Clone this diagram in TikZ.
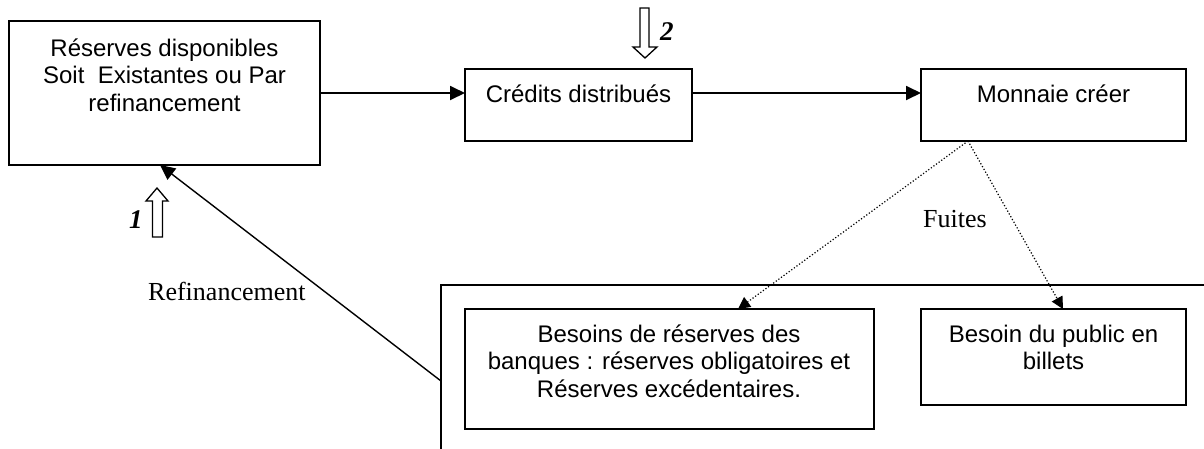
\documentclass[tikz,border=0pt]{standalone}
\usepackage{fontspec}
\setmainfont{Liberation Serif}
\newfontfamily\boxfont{Liberation Sans}
\usetikzlibrary{arrows.meta,calc}
\begin{document}
\begin{tikzpicture}[x=1pt,y=-1pt,
  box/.style={draw,line width=1.8pt,inner sep=0pt,outer sep=0pt,anchor=north west},
  boxtext/.style={anchor=north,inner sep=0pt,align=center,font=\boxfont\fontsize{24}{27.5}\selectfont},
  lbl/.style={anchor=base west,inner sep=0pt,font=\fontsize{26}{30}\selectfont},
  num/.style={anchor=base west,inner sep=0pt,font=\fontsize{27}{30}\selectfont\bfseries\itshape},
  conn/.style={line width=1.8pt,-{Triangle[length=15pt,width=14pt]}},
  refin/.style={line width=1.4pt,-{Triangle[length=15pt,width=14pt]}},
  leak/.style={line width=1.2pt,dash pattern=on 1.2pt off 2pt,-{Triangle[length=12pt,width=12pt]}},
  blk/.style={draw,fill=white,line width=1.3pt,line join=miter}
]
\useasboundingbox (0,0) rectangle (1204,448);
\clip (0,0) rectangle (1204,448);

% boxes
\node[box,minimum width=311pt,minimum height=144pt] (b1) at (9,21) {};
\node[box,minimum width=227pt,minimum height=72pt] (b2) at (465,69) {};
\node[box,minimum width=265pt,minimum height=72pt] (b3) at (921,69) {};
\node[box,minimum width=800pt,minimum height=200pt] (big) at (441,285) {};
\node[box,minimum width=409pt,minimum height=120pt] (b4) at (465,309) {};
\node[box,minimum width=265pt,minimum height=96pt] (b5) at (921,309) {};

% texts
\node[boxtext] (t1) at (164.5,36.75) {\strut R\'eserves disponibles\\Soit~ Existantes ou Par\\refinancement};
\node[boxtext] (t2) at (578.5,82.75) {\strut Cr\'edits distribu\'es};
\node[boxtext] (t3) at (1053.5,82.75) {\strut Monnaie cr\'eer};
\node[boxtext] (t4) at (669,322.75) {\strut Besoins de r\'eserves des\\banques : r\'eserves obligatoires et\\R\'eserves exc\'edentaires.};
\node[boxtext] (t5) at (1053.5,322.75) {\strut Besoin du public en\\billets};

\node[lbl] (fuites) at (923,227) {Fuites};
\node[lbl] (refl) at (148,300) {Refinancement};
\node[num] (n1) at (129,228) {1};
\node[num] (n2) at (660,40) {2};

% connectors
\draw[conn] (b1.east) -- (b2.west |- b1.east);
\draw[conn] (b2.east |- b1.east) -- (b3.west |- b1.east);
\coordinate (rstart) at ($(big.north west)+(0,96)$);
\coordinate (rend) at ($(b1.south west)+(151,0)$);
\draw[refin] (rstart) -- (rend);
\coordinate (mleak) at ($(b3.south west)+(47,0)$);
\draw[leak] (mleak) -- ($(b4.north west)+(273,0)$);
\draw[leak] (mleak) -- ($(b5.north west)+(142,0)$);

% block arrows
\path[blk] (152.5,237) -- (152.5,201) -- (146,201) -- (157,188) -- (168,201) -- (162.5,201) -- (162.5,237) -- cycle;
\path[blk] (640,8) -- (649,8) -- (649,47) -- (657,47) -- (645,58) -- (633,47) -- (640,47) -- cycle;
\end{tikzpicture}
\end{document}
